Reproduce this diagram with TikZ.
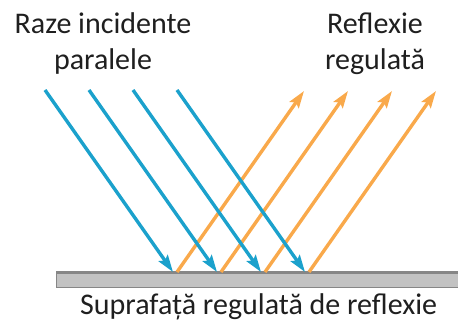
\documentclass[tikz,border=0pt]{standalone}
\usepackage{fontspec}
\setmainfont{Carlito}
\usetikzlibrary{arrows.meta, positioning}
\definecolor{rayBlue}{HTML}{1BA1CC}
\definecolor{rayOrange}{HTML}{F9A94B}
\tikzset{
    >={Stealth[length=17pt, width=11pt, inset=3pt]},
    % Rays
    rayIn/.style={->, line width=3.4pt, rayBlue},
    rayOut/.style={->, line width=3.4pt, rayOrange},
    % Surface
    mirror/.style={rectangle, draw=gray!95, fill=gray!48, line width=1.2pt,
                   minimum width=402pt, minimum height=14pt, inner sep=0pt},
    % Labels
    lbl/.style={font=\fontsize{30}{36}\selectfont, text=black!88, align=center, inner sep=0pt}
}

\begin{document}
\begin{tikzpicture}[x=1pt, y=1pt]
\useasboundingbox (0,0) rectangle (458,321);

% Nodes
\node[mirror, anchor=south west] (surf) at (56,33) {};
\draw[gray!95, line width=3pt] (surf.north west) -- (surf.north east);
\node[lbl] (inc) at (103,277) {Raze incidente\\paralele};
\node[lbl] (refl) at (375,277) {Reflexie\\regulată};
\node[lbl, below=5pt of surf.south, xshift=1pt] (name) {Suprafață regulată de reflexie};

% Rays
\foreach \i in {0,...,3} {
    \coordinate (src\i) at (45+44*\i, 231);
    \coordinate (hit\i) at (173+44*\i, 49);
    \coordinate (bnc\i) at (177+44*\i, 49);
    \coordinate (out\i) at (304+44*\i, 230);
}
\foreach \i in {0,...,3} {
    \draw[rayOut] (bnc\i) -- (out\i);
}
\foreach \i in {0,...,3} {
    \draw[rayIn] (src\i) -- (hit\i);
}

\end{tikzpicture}
\end{document}
